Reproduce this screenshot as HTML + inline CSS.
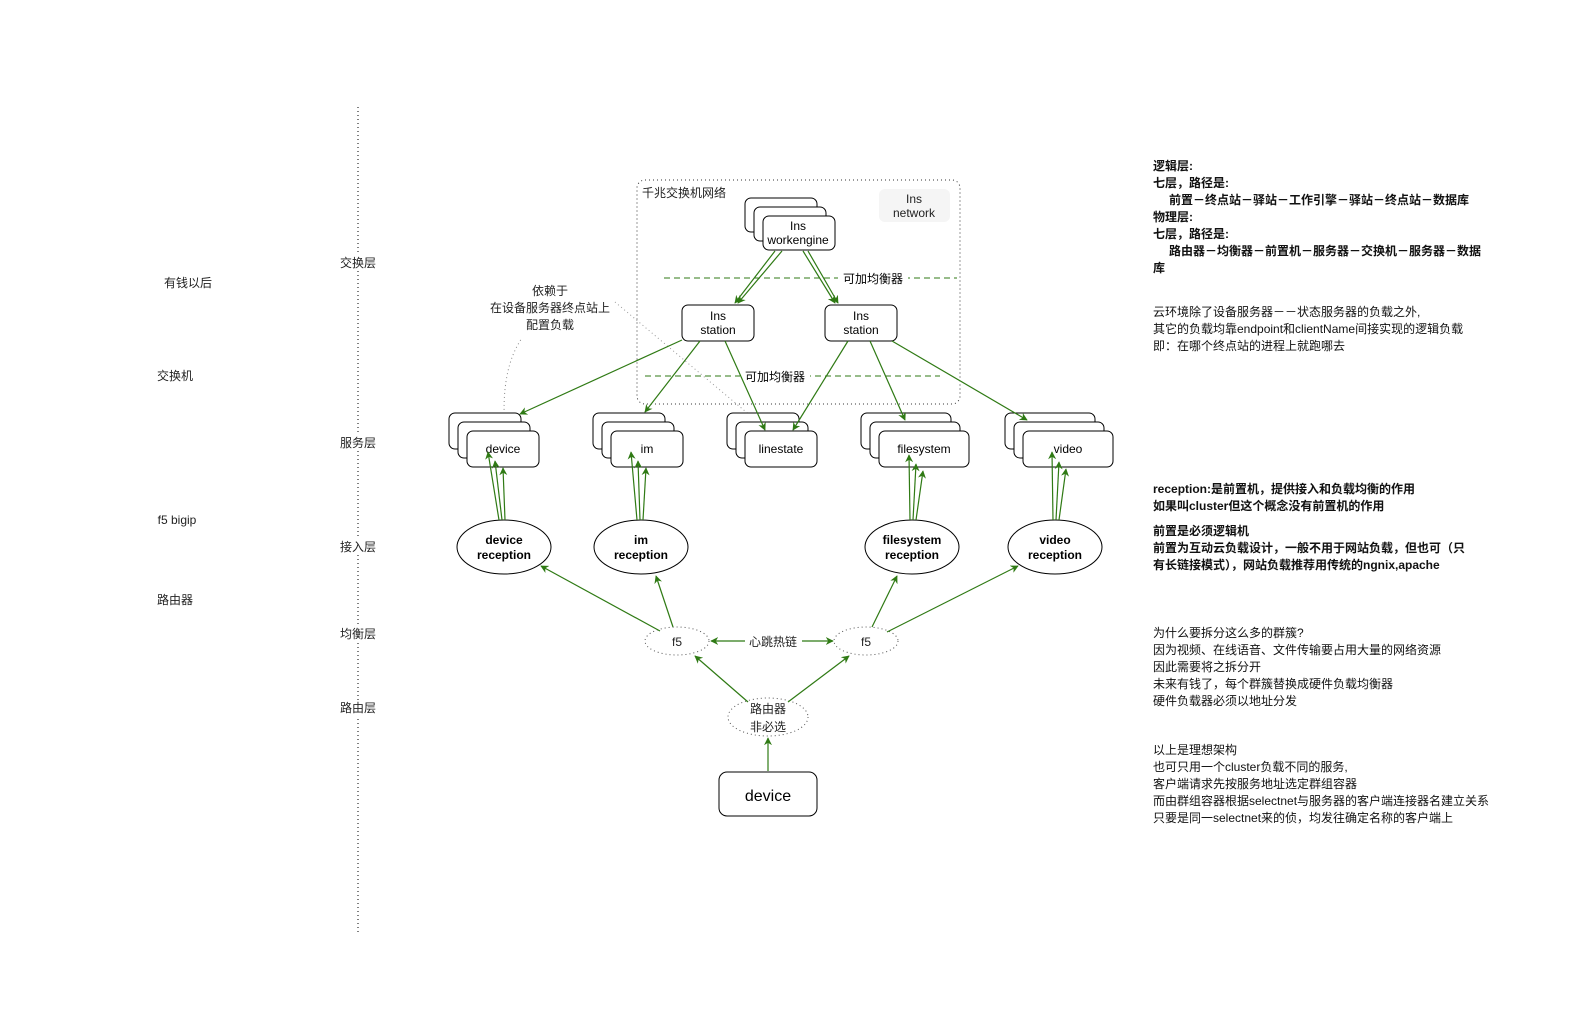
<!DOCTYPE html>
<html><head><meta charset="utf-8"><style>
html,body{margin:0;padding:0;background:#fff;}
svg{display:block;font-family:"Liberation Sans","Noto Sans CJK SC",sans-serif;}
</style></head><body>
<svg width="1573" height="1009" viewBox="0 0 1573 1009" xmlns="http://www.w3.org/2000/svg">
<defs>
<marker id="a" viewBox="0 0 10 10" refX="9" refY="5" markerWidth="8" markerHeight="8" orient="auto" markerUnits="userSpaceOnUse"><path d="M0,0 L10,5 L0,10 L3,5 z" fill="#2f7a14"/></marker>
</defs>
<rect width="1573" height="1009" fill="#fff"/>
<line x1="358" y1="107" x2="358" y2="932" stroke="#000" stroke-width="1" stroke-dasharray="1,3"/>
<g font-size="12" fill="#222" text-anchor="middle">
<rect x="338" y="255" width="40" height="16" fill="#fff"/><text x="358" y="267">交换层</text>
<rect x="338" y="435" width="40" height="16" fill="#fff"/><text x="358" y="447">服务层</text>
<rect x="338" y="539" width="40" height="16" fill="#fff"/><text x="358" y="551">接入层</text>
<rect x="338" y="626" width="40" height="16" fill="#fff"/><text x="358" y="638">均衡层</text>
<rect x="338" y="700" width="40" height="16" fill="#fff"/><text x="358" y="712">路由层</text>
<text x="188" y="287">有钱以后</text>
<text x="175" y="380">交换机</text>
<text x="177" y="524">f5 bigip</text>
<text x="175" y="604">路由器</text>
</g>
<rect x="637" y="180" width="323" height="224" rx="8" fill="none" stroke="#333" stroke-dasharray="1,3"/>
<text x="642" y="197" font-size="12" fill="#222">千兆交换机网络</text>
<rect x="879" y="189" width="71" height="33" rx="6" fill="#f5f5f5"/>
<text x="914" y="203" font-size="12" text-anchor="middle" fill="#222">Ins</text>
<text x="914" y="217" font-size="12" text-anchor="middle" fill="#222">network</text>
<g stroke="#000" fill="#fff">
<rect x="745" y="198" width="72" height="34" rx="6"/>
<rect x="754" y="207" width="72" height="34" rx="6"/>
<rect x="763" y="216" width="72" height="34" rx="6"/>
</g>
<text x="798" y="230" font-size="12" text-anchor="middle">Ins</text>
<text x="798" y="244" font-size="12" text-anchor="middle">workengine</text>
<line x1="664" y1="278" x2="957" y2="278" stroke="#2f7a14" stroke-dasharray="6,4"/>
<rect x="838" y="270" width="70" height="16" fill="#fff"/>
<text x="873" y="283" font-size="12" text-anchor="middle">可加均衡器</text>
<line x1="645" y1="376" x2="940" y2="376" stroke="#2f7a14" stroke-dasharray="6,4"/>
<rect x="740" y="368" width="70" height="16" fill="#fff"/>
<text x="775" y="381" font-size="12" text-anchor="middle">可加均衡器</text>
<g stroke="#000" fill="#fff">
<rect x="682" y="305" width="72" height="36" rx="6"/>
<rect x="825" y="305" width="72" height="36" rx="6"/>
</g>
<g font-size="12" text-anchor="middle">
<text x="718" y="320">Ins</text><text x="718" y="334">station</text>
<text x="861" y="320">Ins</text><text x="861" y="334">station</text>
</g>
<path d="M505,430 Q500,370 522,338" fill="none" stroke="#888" stroke-dasharray="1,3"/>
<line x1="615" y1="302" x2="758" y2="422" stroke="#999" stroke-dasharray="1,3"/>
<g font-size="12" text-anchor="middle" fill="#222">
<text x="550" y="295">依赖于</text>
<text x="550" y="312">在设备服务器终点站上</text>
<text x="550" y="329">配置负载</text>
</g>
<g stroke="#000" fill="#fff">
<rect x="449" y="413" width="72" height="36" rx="6"/><rect x="458" y="422" width="72" height="36" rx="6"/><rect x="467" y="431" width="72" height="36" rx="6"/>
<rect x="593" y="413" width="72" height="36" rx="6"/><rect x="602" y="422" width="72" height="36" rx="6"/><rect x="611" y="431" width="72" height="36" rx="6"/>
<rect x="727" y="413" width="72" height="36" rx="6"/><rect x="736" y="422" width="72" height="36" rx="6"/><rect x="745" y="431" width="72" height="36" rx="6"/>
<rect x="861" y="413" width="90" height="36" rx="6"/><rect x="870" y="422" width="90" height="36" rx="6"/><rect x="879" y="431" width="90" height="36" rx="6"/>
<rect x="1005" y="413" width="90" height="36" rx="6"/><rect x="1014" y="422" width="90" height="36" rx="6"/><rect x="1023" y="431" width="90" height="36" rx="6"/>
</g>
<g font-size="12" text-anchor="middle">
<text x="503" y="453">device</text>
<text x="647" y="453">im</text>
<text x="781" y="453">linestate</text>
<text x="924" y="453">filesystem</text>
<text x="1068" y="453">video</text>
</g>
<g stroke="#000" fill="#fff">
<ellipse cx="504" cy="547" rx="47" ry="27"/>
<ellipse cx="641" cy="547" rx="47" ry="27"/>
<ellipse cx="912" cy="547" rx="47" ry="27"/>
<ellipse cx="1055" cy="547" rx="47" ry="27"/>
</g>
<g font-size="12" font-weight="bold" text-anchor="middle">
<text x="504" y="544">device</text><text x="504" y="559">reception</text>
<text x="641" y="544">im</text><text x="641" y="559">reception</text>
<text x="912" y="544">filesystem</text><text x="912" y="559">reception</text>
<text x="1055" y="544">video</text><text x="1055" y="559">reception</text>
</g>
<g stroke="#555" fill="#fff" stroke-dasharray="1,3">
<ellipse cx="677" cy="641" rx="32" ry="14"/>
<ellipse cx="866" cy="641" rx="32" ry="14"/>
<ellipse cx="768" cy="717" rx="40" ry="19"/>
</g>
<g font-size="12" text-anchor="middle" fill="#222">
<text x="677" y="646">f5</text><text x="866" y="646">f5</text>
<text x="768" y="713">路由器</text><text x="768" y="731">非必选</text>
<text x="773" y="646">心跳热链</text>
</g>
<rect x="719" y="772" width="98" height="44" rx="8" fill="#fff" stroke="#000"/>
<text x="768" y="801" font-size="16" text-anchor="middle">device</text>
<g stroke="#2f7a14" stroke-width="1.2" fill="none" marker-end="url(#a)">
<line x1="775" y1="251" x2="735" y2="303"/>
<line x1="782" y1="251" x2="738" y2="303"/>
<line x1="803" y1="251" x2="835" y2="303"/>
<line x1="808" y1="251" x2="838" y2="303"/>
<line x1="682" y1="340" x2="520" y2="414"/>
<line x1="700" y1="341" x2="645" y2="412"/>
<line x1="725" y1="341" x2="765" y2="430"/>
<line x1="848" y1="341" x2="793" y2="430"/>
<line x1="870" y1="341" x2="905" y2="420"/>
<line x1="892" y1="341" x2="1027" y2="420"/>
<line x1="499" y1="520" x2="488" y2="452"/>
<line x1="502" y1="520" x2="495" y2="461"/>
<line x1="505" y1="520" x2="503" y2="468"/>
<line x1="637" y1="520" x2="631" y2="452"/>
<line x1="640" y1="520" x2="638" y2="461"/>
<line x1="643" y1="520" x2="646" y2="468"/>
<line x1="910" y1="520" x2="909" y2="455"/>
<line x1="913" y1="520" x2="916" y2="464"/>
<line x1="916" y1="520" x2="923" y2="471"/>
<line x1="1053" y1="520" x2="1052" y2="452"/>
<line x1="1056" y1="520" x2="1059" y2="462"/>
<line x1="1059" y1="520" x2="1066" y2="469"/>
<line x1="660" y1="631" x2="541" y2="566"/>
<line x1="673" y1="627" x2="656" y2="576"/>
<line x1="872" y1="627" x2="897" y2="576"/>
<line x1="887" y1="632" x2="1018" y2="566"/>
<line x1="745" y1="641" x2="711" y2="641"/>
<line x1="802" y1="641" x2="833" y2="641"/>
<line x1="748" y1="702" x2="695" y2="656"/>
<line x1="788" y1="702" x2="849" y2="656"/>
<line x1="768" y1="771" x2="768" y2="738"/>
</g>
<g font-size="12" fill="#111">
<g font-weight="bold">
<text x="1153" y="170">逻辑层:</text>
<text x="1153" y="187">七层，路径是:</text>
<text x="1169" y="204">前置－终点站－驿站－工作引擎－驿站－终点站－数据库</text>
<text x="1153" y="221">物理层:</text>
<text x="1153" y="238">七层，路径是:</text>
<text x="1169" y="255">路由器－均衡器－前置机－服务器－交换机－服务器－数据</text>
<text x="1153" y="272">库</text>
</g>
<text x="1153" y="316">云环境除了设备服务器－－状态服务器的负载之外,</text>
<text x="1153" y="333">其它的负载均靠endpoint和clientName间接实现的逻辑负载</text>
<text x="1153" y="350">即：在哪个终点站的进程上就跑哪去</text>
<g font-weight="bold">
<text x="1153" y="493">reception:是前置机，提供接入和负载均衡的作用</text>
<text x="1153" y="510">如果叫cluster但这个概念没有前置机的作用</text>
<text x="1153" y="535">前置是必须逻辑机</text>
<text x="1153" y="552">前置为互动云负载设计，一般不用于网站负载，但也可（只</text>
<text x="1153" y="569">有长链接模式），网站负载推荐用传统的ngnix,apache</text>
</g>
<text x="1153" y="637">为什么要拆分这么多的群簇?</text>
<text x="1153" y="654">因为视频、在线语音、文件传输要占用大量的网络资源</text>
<text x="1153" y="671">因此需要将之拆分开</text>
<text x="1153" y="688">未来有钱了，每个群簇替换成硬件负载均衡器</text>
<text x="1153" y="705">硬件负载器必须以地址分发</text>
<text x="1153" y="754">以上是理想架构</text>
<text x="1153" y="771">也可只用一个cluster负载不同的服务,</text>
<text x="1153" y="788">客户端请求先按服务地址选定群组容器</text>
<text x="1153" y="805">而由群组容器根据selectnet与服务器的客户端连接器名建立关系</text>
<text x="1153" y="822">只要是同一selectnet来的侦，均发往确定名称的客户端上</text>
</g>
</svg>
</body></html>
